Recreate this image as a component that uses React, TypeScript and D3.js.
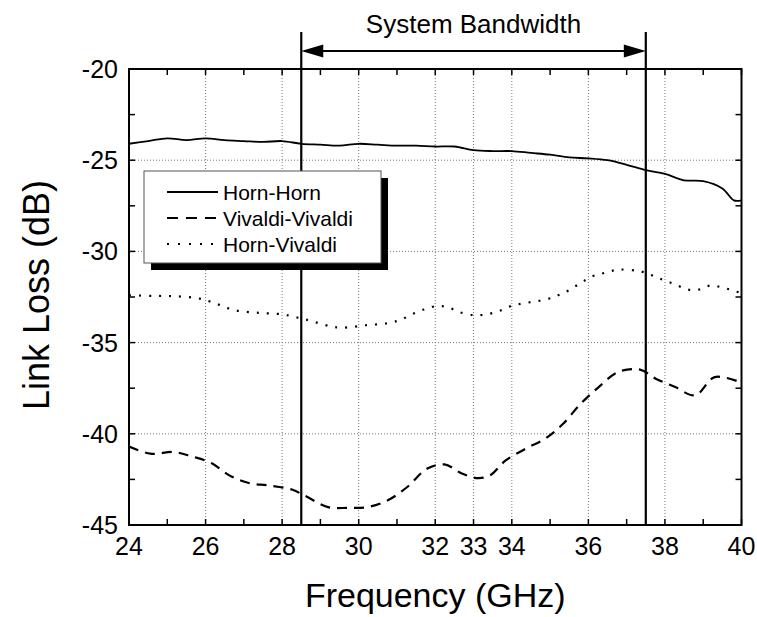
import React from "react";
import * as d3 from "d3";

const hornHornF = [24, 24.5, 25, 25.5, 26, 26.5, 27, 27.5, 28, 28.5, 29, 29.5, 30, 30.5, 31, 31.5, 32, 32.5, 33, 33.5, 34, 34.5, 35, 35.5, 36, 36.5, 37, 37.5, 38, 38.5, 39, 39.5, 39.8, 40];
const hornHornV = [-24.1, -23.95, -23.8, -23.9, -23.8, -23.9, -23.95, -24.0, -23.95, -24.1, -24.15, -24.2, -24.1, -24.15, -24.2, -24.2, -24.25, -24.25, -24.45, -24.5, -24.5, -24.6, -24.7, -24.85, -24.9, -25.0, -25.25, -25.55, -25.75, -26.1, -26.15, -26.55, -27.2, -27.2];

const vivaldiF = [24.0, 24.56, 25.17, 25.64, 26.15, 26.62, 27.13, 27.65, 28.27, 28.58, 29.2, 29.71, 30.23, 30.75, 31.26, 31.78, 32.24, 32.71, 33.12, 33.43, 33.84, 34.36, 34.87, 35.34, 35.8, 36.27, 36.78, 37.35, 37.76, 38.27, 38.79, 39.3, 40.0];
const vivaldiV = [-40.7, -41.09, -41.0, -41.24, -41.6, -42.28, -42.7, -42.83, -43.07, -43.38, -44.02, -44.06, -44.02, -43.66, -42.93, -41.92, -41.68, -42.19, -42.43, -42.28, -41.46, -40.82, -40.27, -39.45, -38.35, -37.44, -36.61, -36.48, -36.98, -37.44, -37.89, -36.89, -37.2];

const hornVivF = [24.0, 24.66, 25.23, 25.85, 26.15, 26.46, 26.77, 27.39, 28.01, 28.32, 28.63, 29.25, 29.56, 30.18, 30.8, 31.11, 31.39, 31.7, 32.0, 32.31, 32.62, 33.04, 33.35, 33.66, 33.96, 34.27, 34.89, 35.2, 35.49, 35.8, 36.11, 36.42, 36.8, 37.35, 37.66, 37.97, 38.28, 38.59, 38.9, 39.19, 39.5, 39.82, 40.0];
const hornVivV = [-32.4, -32.44, -32.46, -32.59, -32.77, -33.01, -33.23, -33.37, -33.45, -33.59, -33.74, -34.1, -34.18, -34.05, -33.92, -33.74, -33.45, -33.19, -33.01, -33.05, -33.32, -33.5, -33.45, -33.27, -33.01, -32.86, -32.64, -32.42, -32.13, -31.73, -31.36, -31.18, -31.0, -31.09, -31.31, -31.58, -31.82, -32.09, -32.09, -31.87, -31.98, -32.17, -32.3];

const xTickLabels = [24, 26, 28, 30, 32, 33, 34, 36, 38, 40];
const xMinorTicks = [25, 27, 29, 31, 35, 37, 39];
const yTickLabels = [-20, -25, -30, -35, -40, -45];
const yMinorTicks = [-22.5, -27.5, -32.5, -37.5, -42.5];
const bandEdges = [28.5, 37.5];
const legendNames = ["Horn-Horn", "Vivaldi-Vivaldi", "Horn-Vivaldi"];
const seriesDash = ["none", "10,7", "2,8"];

const FONT = "'Liberation Sans', Arial, Helvetica, sans-serif";

export default function App() {
  const left = 129, right = 741.5, top = 69, bottom = 525;
  const x = d3.scaleLinear().domain([24, 40]).range([left, right]);
  const y = d3.scaleLinear().domain([-45, -20]).range([bottom, top]);

  const line = d3
    .line<[number, number]>()
    .x((d) => x(d[0]))
    .y((d) => y(d[1]))
    .curve(d3.curveCatmullRom.alpha(0.5));

  const series = [
    d3.zip(hornHornF, hornHornV) as [number, number][],
    d3.zip(vivaldiF, vivaldiV) as [number, number][],
    d3.zip(hornVivF, hornVivV) as [number, number][],
  ];

  const gridX = xTickLabels.filter((v) => v !== 24 && v !== 40);
  const gridY = yTickLabels.filter((v) => v !== -20 && v !== -45);
  const tickLen = 6;

  const arrowY = 51;
  const bx0 = x(bandEdges[0]);
  const bx1 = x(bandEdges[1]);
  const ah = 22, aw = 6.5;

  const lg = { x: 144, y: 171, w: 237, h: 92 };

  return (
    <svg
      width={757}
      height={617}
      style={{ position: "absolute", left: 0, top: 0, background: "#fff" }}
      fontFamily={FONT}
    >
      <rect width={757} height={617} fill="#fff" />
      <defs>
        <clipPath id="plotClip">
          <rect x={left} y={top} width={right - left} height={bottom - top} />
        </clipPath>
      </defs>

      {gridX.map((v) => (
        <line key={"gx" + v} x1={x(v)} x2={x(v)} y1={top} y2={bottom} stroke="#777" strokeWidth={1} strokeDasharray="1,2" />
      ))}
      {gridY.map((v) => (
        <line key={"gy" + v} x1={left} x2={right} y1={y(v)} y2={y(v)} stroke="#777" strokeWidth={1} strokeDasharray="1,2" />
      ))}

      <g clipPath="url(#plotClip)">
        {series.map((s, i) => (
          <path
            key={"s" + i}
            d={line(s) || ""}
            fill="none"
            stroke="#000"
            strokeWidth={i === 0 ? 1.8 : 2.2}
            strokeDasharray={seriesDash[i] === "none" ? undefined : seriesDash[i]}
          />
        ))}
      </g>

      <rect x={left} y={top} width={right - left} height={bottom - top} fill="none" stroke="#000" strokeWidth={2} />

      {[...xTickLabels, ...xMinorTicks].map((v) => (
        <g key={"xt" + v}>
          <line x1={x(v)} x2={x(v)} y1={bottom} y2={bottom - tickLen} stroke="#000" strokeWidth={1.5} />
          <line x1={x(v)} x2={x(v)} y1={top} y2={top + tickLen} stroke="#000" strokeWidth={1.5} />
        </g>
      ))}
      {[...yTickLabels, ...yMinorTicks].map((v) => (
        <g key={"yt" + v}>
          <line x1={left} x2={left + tickLen} y1={y(v)} y2={y(v)} stroke="#000" strokeWidth={1.5} />
          <line x1={right} x2={right - tickLen} y1={y(v)} y2={y(v)} stroke="#000" strokeWidth={1.5} />
        </g>
      ))}

      {xTickLabels.map((v) => (
        <text key={"xl" + v} x={x(v)} y={bottom + 30} fontSize={25} textAnchor="middle" fill="#000">
          {v}
        </text>
      ))}
      {yTickLabels.map((v) => (
        <text key={"yl" + v} x={left - 11} y={y(v) + 9} fontSize={25} textAnchor="end" fill="#000">
          {v}
        </text>
      ))}

      <text x={(left + right) / 2} y={607} fontSize={34} textAnchor="middle" fill="#000">
        Frequency (GHz)
      </text>
      <text
        transform={`translate(49, 295) rotate(-90)`}
        fontSize={36}
        textAnchor="middle"
        fill="#000"
      >
        Link Loss (dB)
      </text>

      {bandEdges.map((v) => (
        <line key={"be" + v} x1={x(v)} x2={x(v)} y1={32} y2={bottom} stroke="#000" strokeWidth={2.2} />
      ))}
      <line x1={bx0 + ah - 2} x2={bx1 - ah + 2} y1={arrowY} y2={arrowY} stroke="#000" strokeWidth={2.2} />
      <path d={`M${bx0},${arrowY} L${bx0 + ah},${arrowY - aw} L${bx0 + ah},${arrowY + aw} Z`} fill="#000" />
      <path d={`M${bx1},${arrowY} L${bx1 - ah},${arrowY - aw} L${bx1 - ah},${arrowY + aw} Z`} fill="#000" />
      <text x={(bx0 + bx1) / 2} y={33} fontSize={26} textAnchor="middle" fill="#000">
        System Bandwidth
      </text>

      <rect x={lg.x + 7} y={lg.y + 7} width={lg.w} height={lg.h} fill="#000" />
      <rect x={lg.x} y={lg.y} width={lg.w} height={lg.h} fill="#fff" stroke="#555" strokeWidth={1} />
      {legendNames.map((name, i) => {
        const cy = lg.y + 21 + i * 26;
        return (
          <g key={"lg" + i}>
            <line
              x1={167}
              x2={218}
              y1={cy}
              y2={cy}
              stroke="#000"
              strokeWidth={i === 0 ? 1.8 : 2.2}
              strokeDasharray={seriesDash[i] === "none" ? undefined : i === 2 ? "2,9" : "11,8"}
            />
            <text x={223} y={cy + 7.5} fontSize={21} fill="#000">
              {name}
            </text>
          </g>
        );
      })}
    </svg>
  );
}
